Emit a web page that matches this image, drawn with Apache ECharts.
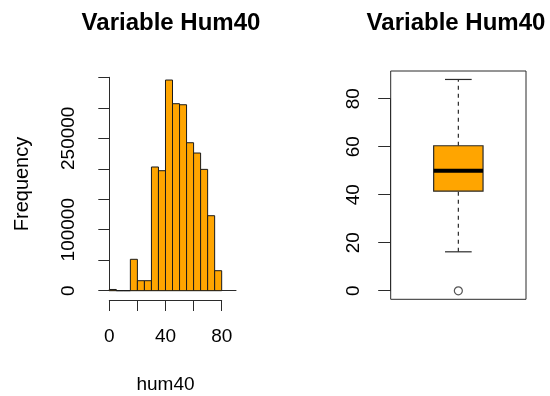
<!DOCTYPE html>
<html>
<head>
<meta charset="utf-8">
<script src="https://cdn.jsdelivr.net/npm/echarts@6/dist/echarts.min.js"></script>
<style>
html,body{margin:0;padding:0;background:#fff;}
#chart{width:550px;height:396px;}
</style>
</head>
<body>
<div id="chart"></div>
<script>
// ---- data ----
const chartTitle = 'Variable Hum40';
const histBinEdges = [0,5,10,15,20,25,30,35,40,45,50,55,60,65,70,75,80];
const histCounts = [2000,0,0,51500,16400,16400,202900,196800,345500,306700,305000,242700,225800,199000,123000,32800];
const histYLabels = [0,100000,250000];
const histXLabels = [0,40,80];
const boxYLabels = [0,20,40,60,80];
// lower whisker, Q1, median, Q3, upper whisker
const boxStats = [16.25,41.5,50,60.4,88];
const boxOutliers = [0];
const xName = 'hum40';
const yName = 'Frequency';

const FONT = "'Liberation Sans', Arial, sans-serif";
const LINE = '#2b2b2b';

const histData = histCounts.map((c,i)=>[histBinEdges[i], histBinEdges[i+1], c]);

const chart = echarts.init(document.getElementById('chart'), null, {renderer:'canvas'});

const option = {
  animation:false,
  backgroundColor:'#fff',
  textStyle:{fontFamily:FONT},
  graphic:[
    {type:'text', x:171, y:23, style:{text:chartTitle, font:"bold 24px "+FONT, fill:'#000', textAlign:'center', textVerticalAlign:'middle'}},
    {type:'text', x:456, y:23, style:{text:chartTitle, font:"bold 24px "+FONT, fill:'#000', textAlign:'center', textVerticalAlign:'middle'}}
  ],
  grid:[
    {left:104.3, top:77.3, width:131.7, height:213.4},
    {left:109.3, top:290, width:112.4, height:10},
    {left:390.7, top:71, width:135.3, height:228.3, show:true, borderColor:LINE, borderWidth:1, backgroundColor:'transparent'},
    {left:390.7, top:98.7, width:135.3, height:192}
  ],
  xAxis:[
    {gridIndex:0, type:'value', min:-3.56, max:90.2, axisLine:{show:true, onZero:false, lineStyle:{color:LINE, width:1}}, axisTick:{show:false}, axisLabel:{show:false}, splitLine:{show:false}},
    {gridIndex:1, type:'value', min:0, max:80, interval:20, position:'bottom',
      axisLine:{show:true, onZero:false, lineStyle:{color:LINE, width:1}},
      axisTick:{show:true, inside:false, length:11, lineStyle:{color:LINE, width:1}},
      axisLabel:{show:true, fontSize:19, color:'#000', margin:27, fontFamily:FONT,
        formatter:v=>histXLabels.indexOf(v)>=0?String(v):''},
      splitLine:{show:false},
      name:xName, nameLocation:'middle', nameGap:75, nameTextStyle:{fontSize:19, color:'#000', fontFamily:FONT}},
    {gridIndex:2, type:'value', min:0, max:1, show:false},
    {gridIndex:3, type:'value', min:0, max:1, show:false}
  ],
  yAxis:[
    {gridIndex:0, type:'value', min:0, max:350000, interval:50000,
      axisLine:{show:true, lineStyle:{color:LINE, width:1}},
      axisTick:{show:true, inside:false, length:11, lineStyle:{color:LINE, width:1}},
      axisLabel:{show:true, rotate:90, fontSize:19, color:'#000', margin:26, fontFamily:FONT,
        formatter:v=>histYLabels.indexOf(v)>=0?String(v):''},
      splitLine:{show:false},
      name:yName, nameLocation:'middle', nameRotate:90, nameGap:72, nameTextStyle:{fontSize:20, color:'#000', fontFamily:FONT}},
    {gridIndex:1, type:'value', min:0, max:1, show:false},
    {gridIndex:2, type:'value', min:-3.52, max:91.52, show:false},
    {gridIndex:3, type:'value', min:0, max:80, interval:20,
      axisLine:{show:true, lineStyle:{color:LINE, width:1}},
      axisTick:{show:true, inside:false, length:12.5, lineStyle:{color:LINE, width:1}},
      axisLabel:{show:true, rotate:90, fontSize:19, color:'#000', margin:27, fontFamily:FONT,
        formatter:v=>boxYLabels.indexOf(v)>=0?String(v):''},
      splitLine:{show:false}}
  ],
  series:[
    {
      type:'custom', xAxisIndex:0, yAxisIndex:0, data:histData, encode:{x:[0,1], y:2},
      renderItem:function(params, api){
        const x0=api.value(0), x1=api.value(1), c=api.value(2);
        const p0=api.coord([x0,c]), p1=api.coord([x1,0]);
        return {type:'rect', shape:{x:p0[0], y:p0[1], width:p1[0]-p0[0], height:p1[1]-p0[1]},
          style:{fill:'#FFA500', stroke:'#1a1a1a', lineWidth:1}};
      }
    },
    {
      type:'custom', xAxisIndex:2, yAxisIndex:2, data:[[0.5].concat(boxStats)], encode:{x:0, y:[1,2,3,4,5]},
      renderItem:function(params, api){
        const cx=api.value(0);
        const lw=api.value(1), q1=api.value(2), med=api.value(3), q3=api.value(4), uw=api.value(5);
        const bh=0.1825, ch=0.0985;
        const c = (x,y)=>api.coord([x,y]);
        const pLw=c(cx,lw), pQ1=c(cx,q1), pMed=c(cx,med), pQ3=c(cx,q3), pUw=c(cx,uw);
        const bl=c(cx-bh,q3), br=c(cx+bh,q1);
        const cl=c(cx-ch,0)[0], cr=c(cx+ch,0)[0];
        const ls={stroke:LINE, lineWidth:1.2, lineDash:[4,4]};
        return {type:'group', children:[
          {type:'line', shape:{x1:pQ3[0], y1:pQ3[1], x2:pUw[0], y2:pUw[1]}, style:ls},
          {type:'line', shape:{x1:pLw[0], y1:pLw[1], x2:pQ1[0], y2:pQ1[1]}, style:ls},
          {type:'line', shape:{x1:cl, y1:pUw[1], x2:cr, y2:pUw[1]}, style:{stroke:LINE, lineWidth:1.2}},
          {type:'line', shape:{x1:cl, y1:pLw[1], x2:cr, y2:pLw[1]}, style:{stroke:LINE, lineWidth:1.2}},
          {type:'rect', shape:{x:bl[0], y:bl[1], width:br[0]-bl[0], height:br[1]-bl[1]}, style:{fill:'#FFA500', stroke:LINE, lineWidth:1.2}},
          {type:'line', shape:{x1:bl[0], y1:pMed[1], x2:br[0], y2:pMed[1]}, style:{stroke:'#000', lineWidth:4}}
        ]};
      }
    },
    {
      type:'scatter', xAxisIndex:2, yAxisIndex:2, data:boxOutliers.map(v=>[0.5,v]),
      symbol:'circle', symbolSize:8,
      itemStyle:{color:'transparent', borderColor:LINE, borderWidth:1.2}
    }
  ]
};
chart.setOption(option);
</script>
</body>
</html>
